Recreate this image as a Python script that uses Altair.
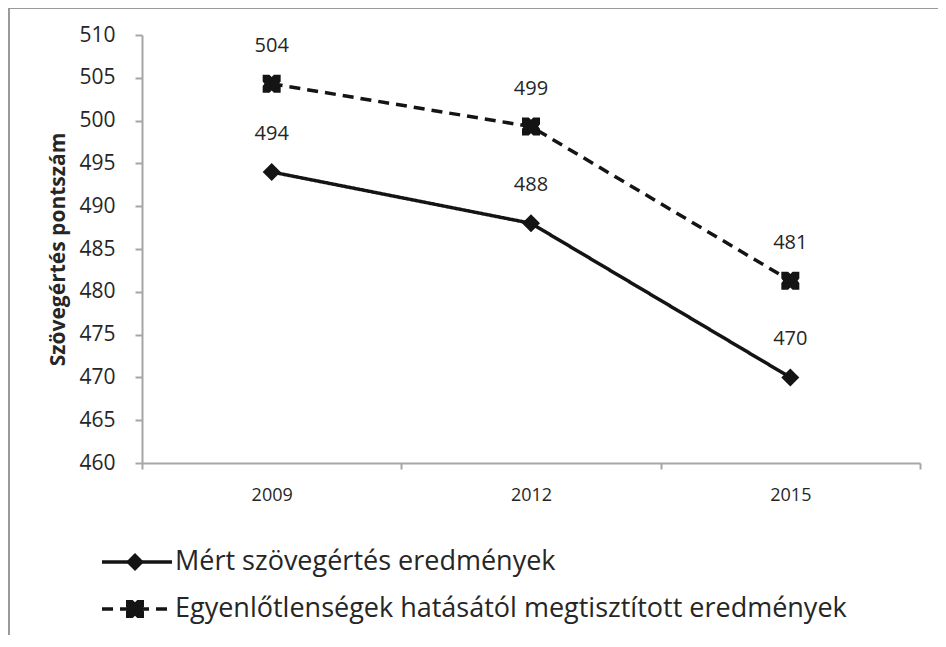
import altair as alt
import pandas as pd

years = ["2009", "2012", "2015"]
measured = [494, 488, 470]
adjusted = [504.3, 499.3, 481.3]
series_names = [
    "Mért szövegértés eredmények",
    "Egyenlőtlenségek hatásától megtisztított eredmények",
]
y_ticks = list(range(460, 511, 5))

rows = []
for name, vals in zip(series_names, [measured, adjusted]):
    for yr, v in zip(years, vals):
        rows.append({"ev": yr, "pont": v, "sorozat": name, "jel": name})
df = pd.DataFrame(rows)

FONT = "Open Sans"
TXT = "#262626"
AX = "#a6a6a6"
INK = "#141414"
notch_square = ("M-1,-1L-0.25,-1L0,-0.75L0.25,-1L1,-1L1,-0.25L0.8,0L1,0.25L1,1"
                "L0.25,1L0,0.75L-0.25,1L-1,1L-1,0.25L-0.8,0L-1,-0.25Z")

x_enc = alt.X(
    "ev:N",
    scale=alt.Scale(type="band", paddingInner=0, paddingOuter=0),
    axis=alt.Axis(
        title=None, labelAngle=0, tickBand="extent", labelFont=FONT,
        labelFontSize=18, labelColor=TXT, labelPadding=17, tickSize=6,
        domainColor=AX, domainWidth=2, tickColor=AX, tickWidth=2, grid=False,
    ),
)
y_enc = alt.Y(
    "pont:Q",
    scale=alt.Scale(domain=[460, 510], nice=False, zero=False),
    axis=alt.Axis(
        title="Szövegértés pontszám", values=y_ticks, labelFont=FONT,
        labelFontSize=21, labelColor=TXT, labelPadding=20, tickSize=7,
        domainColor=AX, domainWidth=2, tickColor=AX, tickWidth=2, grid=False,
        titleFont=FONT, titleFontSize=21, titleFontWeight="bold", titleColor=TXT,
        titleAngle=270, titleX=-84, titleY=214, titleAlign="center",
        titleBaseline="middle",
    ),
)

lines = alt.Chart(df).mark_line(color=INK, strokeWidth=3.5).encode(
    x=x_enc,
    y=y_enc,
    strokeDash=alt.StrokeDash(
        "sorozat:N",
        scale=alt.Scale(domain=series_names, range=[[1, 0], [11, 7]]),
        legend=alt.Legend(
            title=None, orient="none", legendX=-42, legendY=513,
            direction="vertical", symbolType="stroke", symbolSize=4900,
            symbolStrokeWidth=3.5, symbolStrokeColor=INK, labelFont=FONT,
            labelFontSize=27, labelColor=TXT, labelOffset=1, rowPadding=19,
            clipHeight=28, padding=0, labelLimit=900,
        ),
    ),
)

points = alt.Chart(df).mark_point(filled=True, color=INK, size=324, opacity=1).encode(
    x=x_enc,
    y=alt.Y("pont:Q"),
    shape=alt.Shape(
        "jel:N",
        scale=alt.Scale(domain=series_names, range=["diamond", notch_square]),
        legend=alt.Legend(
            title=None, orient="none", legendX=-16, legendY=513,
            direction="vertical", symbolSize=324, symbolFillColor=INK,
            symbolStrokeWidth=0, labelExpr="''", labelFontSize=1,
            labelOffset=0, rowPadding=19, clipHeight=28, padding=0,
        ),
    ),
)

labels = alt.Chart(df).mark_text(
    dy=-38, font=FONT, fontSize=20, color=TXT, baseline="middle"
).encode(x=x_enc, y=alt.Y("pont:Q"), text=alt.Text("pont:Q", format=".0f"))

frame_left = alt.Chart(df).mark_rule(color="#9a9a9a", strokeWidth=2).encode(
    x=alt.value(-133), y=alt.value(-27), y2=alt.value(600)
)
frame_top = alt.Chart(df).mark_rule(color="#9a9a9a", strokeWidth=2).encode(
    x=alt.value(-133), x2=alt.value(800), y=alt.value(-27)
)

chart = (
    alt.layer(frame_left, frame_top, lines, points, labels)
    .resolve_legend(shape="independent", strokeDash="independent")
    .properties(
        width=778, height=428,
        autosize=alt.AutoSizeParams(type="none"),
        padding={"left": 134, "top": 27, "right": 18, "bottom": 176},
        background="white",
    )
    .configure_view(stroke=None)
)

chart.save("out.html", embed_options={"renderer": "svg", "actions": False})
